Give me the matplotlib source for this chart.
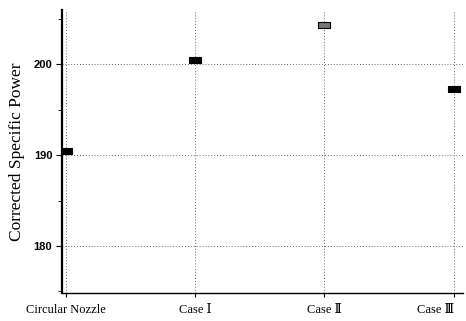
import matplotlib.pyplot as plt
import matplotlib.transforms as mtransforms
from matplotlib.ticker import MultipleLocator

categories = ["Circular Nozzle", "Case \u2160", "Case \u2161", "Case \u2162"]
power = [190.5, 200.5, 204.3, 197.3]
colors = ["black", "black", "#777777", "black"]

fig = plt.figure(figsize=(4.66, 3.21), dpi=100)
ax = fig.add_axes([0.133, 0.087, 0.86, 0.882])

# wide flat rectangle marker like the original
rect = [(-1, -0.55), (1, -0.55), (1, 0.55), (-1, 0.55), (-1, -0.55)]

x = list(range(len(categories)))
for xi, yi, c in zip(x, power, colors):
    ax.plot(xi, yi, marker=rect, markersize=9, color=c, markeredgecolor="black",
            markeredgewidth=0.8, linestyle="none", zorder=5)

ax.set_xlim(-0.03, 3.07)
ax.set_ylim(174.8, 206)
ax.set_xticks(x)
ax.set_xticklabels(categories, family=["Liberation Serif", "DejaVu Serif"], fontsize=9)
last = ax.get_xticklabels()[-1]
last.set_ha("right")
last.set_transform(last.get_transform() + mtransforms.ScaledTranslation(0.11, 0, fig.dpi_scale_trans))

ax.set_yticks([180, 190, 200])
ax.yaxis.set_minor_locator(MultipleLocator(5))
for lbl in ax.get_yticklabels():
    lbl.set_fontweight("bold")
    lbl.set_fontsize(8)
    lbl.set_family("Liberation Sans")

ax.grid(True, which="major", linestyle=(0, (1, 2)), color="#666666", linewidth=0.7)
ax.set_ylabel("Corrected Specific Power", family="Liberation Serif", fontsize=12.5, labelpad=6)

ax.spines["top"].set_visible(False)
ax.spines["right"].set_visible(False)
ax.spines["left"].set_linewidth(1.6)
ax.spines["bottom"].set_linewidth(1.0)
ax.tick_params(axis="x", length=3, pad=5)
ax.tick_params(axis="y", length=4, pad=3)
ax.tick_params(axis="y", which="minor", length=3)

fig.savefig("out.png", dpi=100)
